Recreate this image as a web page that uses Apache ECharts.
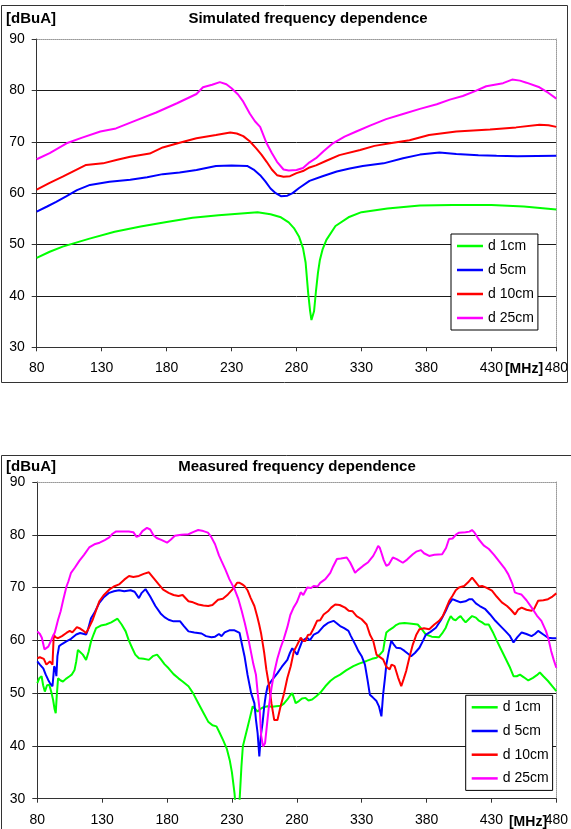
<!DOCTYPE html>
<html>
<head>
<meta charset="utf-8">
<script src="https://cdn.jsdelivr.net/npm/echarts@6/dist/echarts.min.js"></script>
<style>
html,body{margin:0;padding:0;background:#fff;}
#chart{width:571px;height:829px;}
</style>
</head>
<body>
<div id="chart"></div>
<script>
// ---- data ----
var seriesNames = ['d 1cm', 'd 5cm', 'd 10cm', 'd 25cm'];
var seriesColors = ['#00ff00', '#0000ff', '#ff0000', '#ff00ff'];
var xTicksMHz = [80, 130, 180, 230, 280, 330, 380, 430, 480];
var yTicksDbuA = [30, 40, 50, 60, 70, 80, 90];
var topTitle = 'Simulated frequency dependence';
var bottomTitle = 'Measured frequency dependence';
var yUnit = '[dBuA]';
var xUnit = '[MHz]';

// Simulated (MHz, dBuA)
var simD1 = [[80,47.4],[90,48.6],[100,49.6],[120,51.1],[140,52.5],[160,53.5],[180,54.4],[200,55.2],[220,55.7],[240,56.1],[250,56.3],[260,55.9],[268,55.3],[274,54.3],[278,53.2],[282,51.5],[285,49.3],[287,46.5],[289,40.5],[290.5,37],[291.5,35.3],[292.5,35.5],[293.5,37.0],[295,41.0],[296.5,44.5],[298,47.0],[300,49.0],[303,50.9],[310,53.6],[320,55.3],[330,56.3],[350,57.0],[375,57.6],[400,57.7],[430,57.7],[455,57.4],[480,56.8]];
var simD5 = [[80,56.4],[88,57.4],[95,58.3],[103,59.4],[111,60.6],[121,61.6],[136,62.2],[152,62.6],[165,63.1],[177,63.7],[190,64.0],[203,64.5],[218,65.3],[230,65.4],[242,65.3],[247,64.6],[252,63.5],[256,62.3],[260,60.9],[264,60.0],[268,59.4],[273,59.5],[277,60.0],[282,61.0],[290,62.4],[300,63.3],[311,64.2],[321,64.8],[331,65.3],[347,65.8],[362,66.8],[375,67.5],[390,67.9],[403,67.6],[420,67.4],[434,67.3],[450,67.2],[480,67.3]];
var simD10 = [[80,60.7],[90,62.0],[100,63.2],[110,64.5],[118,65.5],[131,65.8],[142,66.5],[152,67.1],[167,67.7],[177,68.9],[190,69.8],[203,70.7],[218,71.3],[229,71.8],[234,71.6],[239,71.1],[244,70.1],[249,68.7],[253,67.5],[257,66.1],[261,64.6],[265,63.5],[270,63.2],[275,63.3],[280,63.9],[285,64.3],[290,65.0],[295,65.4],[303,66.3],[313,67.4],[329,68.4],[340,69.2],[352,69.7],[367,70.3],[382,71.3],[403,72.0],[429,72.4],[449,72.8],[467,73.3],[474,73.2],[480,72.9]];
var simD25 = [[80,66.6],[90,67.8],[103,69.7],[115,70.8],[129,72.0],[141,72.6],[157,74.2],[172,75.7],[188,77.5],[203,79.3],[208,80.6],[215,81.1],[221,81.6],[226,81.2],[230,80.4],[235,79.2],[239,77.8],[244,75.5],[248,74.0],[252,72.9],[257,69.7],[261,67.8],[265,66.1],[270,64.6],[274,64.4],[280,64.5],[285,64.9],[290,66.0],[295,66.8],[301,68.2],[308,69.7],[317,71.0],[326,72.0],[337,73.2],[349,74.4],[362,75.4],[375,76.4],[388,77.3],[398,78.2],[408,78.9],[417,79.8],[426,80.8],[439,81.4],[446,82.1],[452,81.9],[457,81.5],[467,80.6],[474,79.5],[480,78.4]];

// Measured (MHz, dBuA)
var measD1 = [[80,51.9],[81.5,52.8],[83.3,53.2],[84.5,51.5],[85.8,50.3],[87.5,51.5],[89.2,51.6],[90.8,50.2],[92.2,48.7],[93.3,47.0],[94.2,46.2],[95,49.5],[96,52.8],[98,52.4],[99.8,52.2],[102,52.7],[104.9,53.2],[106.5,53.5],[108.7,54.4],[110,56.0],[111.3,58.2],[113,57.8],[115.1,57.3],[117.6,56.3],[119.5,57.8],[121.4,59.8],[123.5,61.2],[125.3,62.3],[129,62.8],[132.9,63.0],[137,63.4],[141.8,64.1],[145,63.0],[148.1,61.7],[150.5,60.0],[153.2,58.5],[155.5,57.3],[158.3,56.6],[162,56.5],[166,56.3],[169,57.0],[172.3,57.3],[175,56.5],[178,55.5],[181.2,54.7],[185,53.6],[188.8,52.8],[192,52.2],[196.5,51.3],[200,50.0],[204.1,48.1],[208,46.3],[211.7,44.6],[215,43.9],[218.1,43.7],[220.5,42.5],[223.2,41.1],[226,39.5],[228.3,37.3],[230,35.0],[231,33.0],[232,31.0],[233,28.0],[234.5,26.5],[235.5,28.0],[236.3,31.5],[237.3,36.0],[238.4,39.9],[240,41.5],[242.2,43.7],[244,45.5],[246,47.5],[248,47.0],[249.8,46.5],[252,47.0],[254,47.3],[257.5,47.5],[261,47.4],[264,47.5],[267.6,47.6],[270,48.0],[272.75,48.8],[275,49.6],[276.5,50.0],[277.8,49.1],[279.1,48.1],[281.6,48.5],[284,49.0],[286.7,49.1],[289,48.6],[291.8,48.8],[295,49.4],[298.2,50.1],[302,51.3],[305.8,52.3],[309.5,53.0],[313.4,53.5],[318,54.3],[323.6,55.1],[328,55.6],[333.8,56.1],[338,56.5],[341.4,56.7],[344,57.3],[346.5,58.0],[347.8,60.0],[349,61.5],[351.5,62.0],[354.1,62.4],[356.5,62.9],[359.2,63.2],[363,63.3],[366.8,63.2],[370,63.1],[373.2,63.0],[376,62.2],[379.5,61.1],[384,60.7],[389.7,60.6],[392,61.3],[394.8,62.4],[396.5,63.5],[398.6,64.6],[400.5,64.0],[402.4,63.8],[404.5,64.3],[406.2,64.6],[408,64.0],[410.1,63.4],[412.5,64.0],[415.1,64.6],[418,64.3],[420,63.8],[422.8,63.4],[425,63.0],[427.9,63.0],[431,61.6],[434.2,59.9],[437,58.5],[440.6,56.7],[444,55.0],[447,53.2],[449.5,53.2],[452,53.5],[455,53.0],[458.4,52.4],[462,52.9],[465,53.4],[467.3,53.9],[470,53.2],[473.6,52.3],[477,51.3],[480,50.4]];
var measD5 = [[80,56.0],[82,55.4],[84.6,54.7],[86.5,53.5],[88.4,52.5],[90,51.8],[91.7,51.3],[92.5,53.5],[93,55.1],[94,54.5],[94.7,53.2],[95.5,57.0],[96.8,58.9],[99,59.3],[102.4,59.8],[106,60.3],[110,61.1],[113,61.4],[117.6,61.1],[119,62.0],[121.4,64.2],[124,65.2],[127.8,67.1],[131,68.1],[135.4,69.0],[139,69.3],[143,69.5],[147,69.3],[151.9,69.5],[155,69.2],[158.3,68.0],[160.5,69.0],[163.4,69.7],[167,68.3],[171,66.5],[175,65.1],[178,64.4],[181.2,63.9],[185,63.6],[190.1,63.6],[193,62.7],[196.5,61.7],[201,61.5],[206.6,61.3],[210,60.8],[214.2,60.6],[217,60.7],[220,61.2],[222,60.8],[224.4,61.5],[228,61.9],[232,61.9],[235.9,61.4],[237.5,59.5],[239.7,57.0],[242,53.5],[244.8,50.0],[247.3,48.1],[248.5,45.0],[249.8,42.4],[251.1,38.0],[252.3,42.0],[253.6,44.3],[254.9,47.5],[256,49.5],[257.5,51.3],[261,52.5],[265.1,53.8],[268.5,55.0],[272.7,56.3],[274.5,57.5],[276.5,58.5],[280.3,57.3],[282,58.5],[284.2,59.9],[288,60.5],[290,60.0],[293.1,61.1],[296.5,61.5],[300.7,62.7],[304,63.3],[308.3,63.7],[310.5,63.3],[313.4,62.7],[316.5,62.3],[319.8,61.8],[321.5,60.9],[323.6,59.9],[325.5,59.0],[327.4,58.0],[330,57.0],[332.5,55.4],[334.5,52.5],[336.3,49.7],[338.5,49.2],[341.4,48.5],[343.3,47.5],[345.2,45.6],[346.5,49.7],[348,53.0],[349,55.4],[351,58.0],[352.8,59.9],[354.5,59.3],[356.7,58.6],[360,58.5],[363,58.0],[365.5,57.5],[368.1,57.0],[371,57.6],[374.5,58.6],[377,59.8],[379.5,61.1],[383,61.6],[387.2,62.4],[391,63.8],[394.8,65.6],[397,66.8],[399.9,67.8],[403,67.5],[406.2,67.2],[410,67.4],[413,67.8],[415.1,67.8],[418,67.0],[421,66.5],[425.3,65.9],[429,64.9],[433,63.7],[437,62.7],[440.6,61.8],[444,60.9],[447,59.6],[450,60.6],[453.3,61.5],[457,61.2],[460.9,60.8],[463.5,61.2],[466,61.8],[470,61.1],[473.6,60.5],[477,60.4],[480,60.4]];
var measD10 = [[80,56.6],[82,56.8],[83.3,57.0],[85,56.5],[87,55.4],[88.5,55.7],[89.7,56.0],[91.7,55.4],[92.7,61.1],[94,60.6],[96,60.4],[99,60.8],[102.4,61.4],[105,61.8],[107,61.5],[108.7,62.0],[110.5,62.5],[112.5,62.3],[115,61.9],[117.6,61.4],[120,62.5],[122.7,63.9],[125,65.5],[127.8,67.4],[131,68.5],[135.4,69.6],[139,70.2],[143,70.6],[147,71.5],[150.7,72.2],[154,72.0],[158.3,72.2],[162,72.6],[166,72.9],[169,72.0],[173.6,70.6],[177,69.6],[181.2,69.0],[185,68.6],[188.8,68.4],[192,68.6],[196.5,67.4],[200,67.2],[204.1,66.8],[208,66.6],[211.7,66.5],[215,66.7],[219.3,67.7],[223,67.9],[226.9,68.7],[231,69.8],[234,70.9],[235.9,70.9],[238,70.6],[239.7,70.3],[242,69.5],[244.5,68.0],[247.3,66.5],[249.5,64.5],[251,63.0],[252.4,61.4],[254,59.0],[254.9,57.6],[256.5,54.5],[258.7,51.3],[260.5,48.0],[262.6,44.9],[265.1,44.9],[267.5,47.5],[270.2,50.0],[272.75,52.9],[275.3,55.1],[277.8,58.0],[280,59.0],[283,60.5],[285,59.9],[286.7,59.9],[288.5,61.0],[290.5,61.1],[293,62.3],[295.6,63.7],[298,63.8],[300.7,64.9],[304,65.5],[306.5,66.2],[309.6,66.8],[313,66.7],[317.2,66.2],[320,65.6],[323,65.5],[326.1,64.6],[330,64.0],[333.8,63.0],[336.5,61.0],[338.9,59.9],[341.4,57.3],[343,57.0],[346.5,56.4],[349,55.0],[351.6,54.5],[353,55.4],[355.4,55.1],[358,53.0],[360.5,51.3],[362.5,52.8],[364.3,54.2],[367,57.0],[369.4,59.2],[372,61.0],[374.5,62.1],[378,62.3],[382.1,62.1],[386,63.0],[389.7,63.7],[392.5,64.6],[394.8,65.9],[397.5,67.5],[399.9,68.4],[402.5,69.5],[405,70.0],[409,70.3],[412,71.0],[415.1,71.9],[418,71.0],[420.5,70.2],[422.8,70.3],[426,70.0],[430.4,69.4],[434,68.3],[438,67.2],[442,66.5],[445,65.8],[448.2,64.9],[450.5,65.8],[453.3,66.2],[457,65.8],[460.9,65.6],[463,66.0],[466,67.5],[470,67.6],[473.6,67.8],[477,68.3],[480,68.9]];
var measD25 = [[80,61.7],[82,61.2],[83.5,60.5],[85.5,58.3],[87,58.0],[88.5,58.8],[90.5,59.9],[92,60.8],[93.5,61.5],[96,63.9],[98,65.5],[100,67.7],[102.5,70.2],[104,71.2],[106,72.8],[109,73.8],[112.5,75.1],[116,76.2],[120,77.6],[124,78.2],[128,78.5],[132,79.0],[135.5,79.5],[138,80.2],[140.5,80.6],[145,80.6],[150.5,80.6],[154,80.5],[156.5,79.6],[158.5,79.8],[161,80.7],[164.5,81.3],[167,81.0],[169.5,79.9],[172,79.4],[176,79.0],[180,78.5],[183,79.1],[186,79.8],[191,80.0],[196.5,80.1],[200,80.5],[204,80.9],[208,80.7],[211.5,80.4],[214,79.6],[217,78.2],[220,76.1],[222,75.0],[225,73.4],[228,71.6],[232,69.7],[235,67.8],[237.5,65.6],[240,63.2],[242.5,60.5],[244.5,58.0],[246.5,55.5],[248.5,53.5],[250,49.7],[251.5,46.5],[252.5,42.0],[254,39.9],[255.5,40.5],[257,44.0],[258.5,47.5],[260.5,51.0],[262.5,53.8],[265,56.5],[267.5,58.6],[270,60.3],[272.7,62.5],[275,64.8],[277.5,66.2],[280,67.2],[283,69.1],[285,68.6],[288,70.0],[291,69.9],[293,70.3],[296,70.2],[298,70.9],[302,71.6],[305.8,72.8],[308,74.0],[310.9,75.4],[314,75.5],[318.5,75.7],[321,74.8],[323,73.8],[324.9,72.8],[327,73.3],[331,74.1],[335,74.8],[338.9,76.0],[341,77.0],[342.7,77.9],[344,77.5],[345.2,76.6],[347,75.2],[349,74.1],[351,74.4],[354,75.7],[357,75.4],[361.7,74.7],[365,75.3],[369.4,76.3],[372,76.8],[375.7,77.1],[378,76.5],[382,76.0],[386,76.2],[392,76.3],[395,77.5],[397.3,79.2],[400,79.3],[403,80.1],[405,80.4],[410,80.5],[413,80.6],[415,80.9],[417,80.4],[420,79.2],[424,78.0],[428,77.3],[432,76.2],[435.5,75.1],[440,73.7],[443,72.5],[446,70.8],[448,69.1],[450,68.9],[453,68.7],[457,67.6],[461,66.2],[465,64.7],[468.5,63.7],[472,61.8],[474,60.2],[476,58.0],[478,56.3],[480,54.8]];

var simData = [simD1, simD5, simD10, simD25];
var measData = [measD1, measD5, measD10, measD25];

// ---- chart ----
var FONT = '"Liberation Sans", Arial, sans-serif';
var chart = echarts.init(document.getElementById('chart'), null, {renderer: 'canvas'});

var xMin = xTicksMHz[0], xMax = xTicksMHz[xTicksMHz.length - 1], xStep = xTicksMHz[1] - xTicksMHz[0];
var yMin = yTicksDbuA[0], yMax = yTicksDbuA[yTicksDbuA.length - 1], yStep = yTicksDbuA[1] - yTicksDbuA[0];

function mainX(gi) {
  return {
    type: 'value', gridIndex: gi, position: 'bottom', min: xMin, max: xMax, interval: xStep,
    axisLine: {show: true, onZero: false, lineStyle: {color: '#333', width: 1}},
    axisTick: {show: true, inside: false, length: 4, lineStyle: {color: '#333'}},
    axisLabel: {show: true, margin: 14, color: '#000', fontSize: 14, fontFamily: FONT},
    splitLine: {show: false}
  };
}
function borderX(gi) {
  return {
    type: 'value', gridIndex: gi, position: 'top', min: xMin, max: xMax, interval: xStep,
    axisLine: {show: true, onZero: false, lineStyle: {color: '#999', width: 1, type: 'dotted'}},
    axisTick: {show: false}, axisLabel: {show: false}, splitLine: {show: false}
  };
}
function mainY(gi) {
  return {
    type: 'value', gridIndex: gi, position: 'left', min: yMin, max: yMax, interval: yStep,
    axisLine: {show: true, onZero: false, lineStyle: {color: '#333', width: 1}},
    axisTick: {show: true, inside: false, length: 5, lineStyle: {color: '#333'}},
    axisLabel: {show: true, margin: 12, color: '#000', fontSize: 14, fontFamily: FONT},
    splitLine: {show: true, showMaxLine: false, lineStyle: {color: '#1a1a1a', width: 1}}
  };
}
function borderY(gi) {
  return {
    type: 'value', gridIndex: gi, position: 'right', min: yMin, max: yMax, interval: yStep,
    axisLine: {show: true, onZero: false, lineStyle: {color: '#999', width: 1, type: 'dotted'}},
    axisTick: {show: false}, axisLabel: {show: false}, splitLine: {show: false}
  };
}

var series = [];
seriesNames.forEach(function (name, i) {
  series.push({
    name: name, type: 'line', xAxisIndex: 0, yAxisIndex: 0, data: simData[i],
    symbol: 'none', showSymbol: false, smooth: false,
    lineStyle: {color: seriesColors[i], width: 2}, itemStyle: {color: seriesColors[i]}
  });
});
seriesNames.forEach(function (name, i) {
  series.push({
    name: name, type: 'line', xAxisIndex: 2, yAxisIndex: 2, data: measData[i],
    symbol: 'none', showSymbol: false, smooth: false,
    lineStyle: {color: seriesColors[i], width: 2}, itemStyle: {color: seriesColors[i]}
  });
});

function legendAt(left, top, gap) {
  return {
    orient: 'vertical', left: left, top: top, data: seriesNames,
    icon: 'rect', itemWidth: 26, itemHeight: 2.5, itemGap: gap,
    padding: [5, 4, 5, 6], borderColor: '#000', borderWidth: 1, backgroundColor: '#fff',
    selectedMode: false,
    textStyle: {fontSize: 14, color: '#000', fontFamily: FONT}
  };
}

var titleStyle = {fontSize: 15, fontWeight: 'bold', color: '#000', fontFamily: FONT};
var unitStyle = {fontSize: 14, fontWeight: 'bold', color: '#000', fontFamily: FONT};

var option = {
  animation: false,
  backgroundColor: '#fff',
  title: [
    {text: yUnit, left: 6, top: 11, padding: 0, textStyle: titleStyle},
    {text: topTitle, left: 308, top: 11, textAlign: 'center', padding: 0, textStyle: titleStyle},
    {text: xUnit, left: 524, top: 362, textAlign: 'center', padding: 0, textStyle: unitStyle},
    {text: yUnit, left: 6, top: 459, padding: 0, textStyle: titleStyle},
    {text: bottomTitle, left: 297, top: 459, textAlign: 'center', padding: 0, textStyle: titleStyle},
    {text: xUnit, left: 528, top: 815, textAlign: 'center', padding: 0, textStyle: unitStyle}
  ],
  grid: [
    {left: 36.7, top: 39, width: 520, height: 308.3, containLabel: false},
    {left: 37.3, top: 482, width: 524.4, height: 316.7, containLabel: false}
  ],
  xAxis: [mainX(0), borderX(0), mainX(1), borderX(1)],
  yAxis: [mainY(0), borderY(0), mainY(1), borderY(1)],
  legend: [legendAt(451, 234, 10), legendAt(465.7, 695.3, 9.7)],
  graphic: [
    {type: 'rect', silent: true, shape: {x: 1.5, y: 5.5, width: 566, height: 377}, style: {fill: null, stroke: '#333', lineWidth: 1}},
    {type: 'rect', silent: true, shape: {x: 1.5, y: 455.5, width: 600, height: 400}, style: {fill: null, stroke: '#333', lineWidth: 1}}
  ],
  series: series
};
chart.setOption(option);
</script>
</body>
</html>
